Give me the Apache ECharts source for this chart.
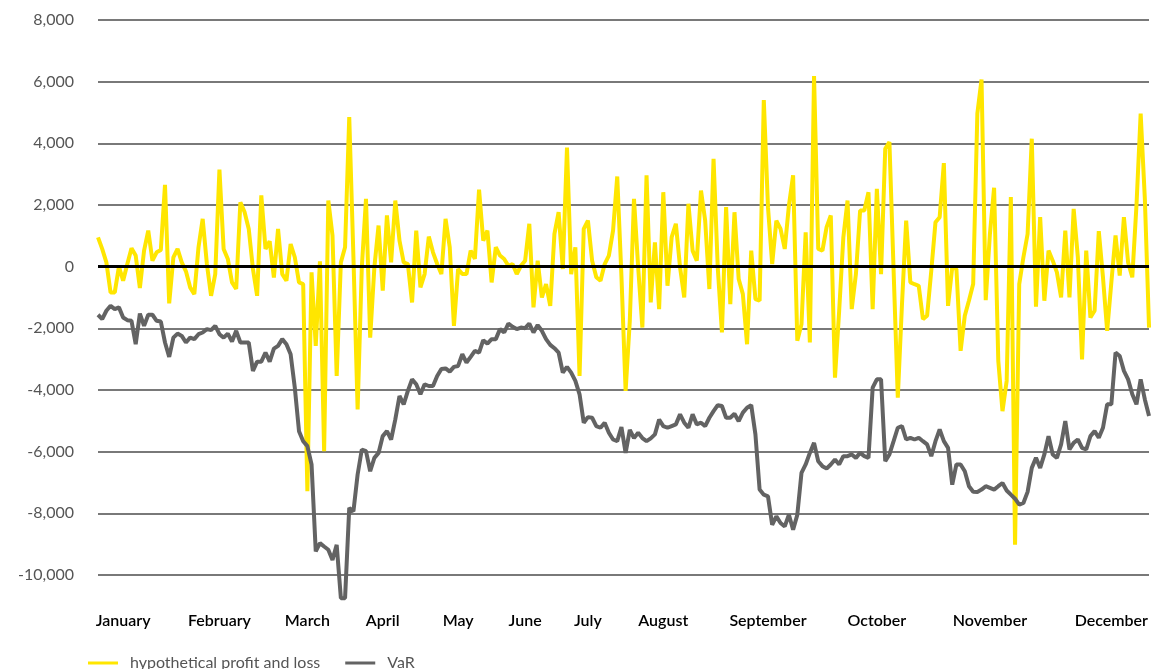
<!DOCTYPE html>
<html>
<head>
<meta charset="utf-8">
<style>
  html, body { margin: 0; padding: 0; background: #fff; }
  #chart { width: 1151px; height: 669px; }
</style>
<script src="https://cdn.jsdelivr.net/npm/echarts@6/dist/echarts.min.js"></script>
</head>
<body>
<div id="chart"></div>
<script>
// month labels and the trading-day index they sit on
const monthNames = ['January', 'February', 'March', 'April', 'May', 'June',
  'July', 'August', 'September', 'October', 'November', 'December'];
const monthPos = [6, 29, 50, 68, 86, 102, 117, 135, 160, 186, 213, 242];

// hypothetical profit and loss, one value per trading day
const pnl = [
  950, 575, 140, -835, -835, 0, -455, 85, 600, 360,
  -690, 520, 1170, 195, 465, 540, 2655, -1190, 300, 575,
  140, -150, -670, -890, 630, 1550, 85, -945, -240, 3145,
  575, 250, -510, -725, 2090, 1770, 1225, -75, -945, 2310,
  575, 825, -350, 1225, -240, -455, 735, 305, -510, -565,
  -7285, -185, -2570, 175, -5985, 2145, 1010, -3545, 140, 630,
  4855, 305, -4630, -20, 2200, -2300, -20, 1335, -780, 1660,
  140, 2145, 845, 140, 85, -1160, 1170, -670, -240, 975,
  465, 85, -240, 1550, 630, -1920, -75, -240, -240, 520,
  250, 2495, 845, 1170, -510, 630, 360, 250, 30, 85,
  -240, 30, 195, 1390, -1320, 195, -1000, -565, -1270, 1060,
  1765, -75, 3860, -240, 630, -3545, 1225, 1495, 195, -345,
  -455, 85, 360, 1170, 2925, -300, -4030, -1755, 2200, -20,
  -1975, 2960, -1160, 790, -1375, 2415, -620, 955, 1390, -20,
  -1000, 2040, 520, 195, 2470, 1495, -725, 3500, -20, -2135,
  1930, -1215, 1765, -400, -890, -2515, 520, -1050, -1105, 5400,
  1930, 85, 1495, 1225, 575, 1985, 2960, -2405, -1865, 1115,
  -2460, 6180, 575, 520, 1280, 1660, -3600, -1430, 955, 2145,
  -1375, -240, 1820, 1820, 2415, -1375, 2525, -240, 3825, 4045,
  -130, -4250, -1215, 1495, -510, -570, -620, -1700, -1590, -130,
  1440, 1605, 3360, -1270, -20, -75, -2730, -1590, -1100, -565,
  4965, 6070, -1085, 1060, 2560, -3055, -4685, -3705, 2255, -9020,
  -565, 305, 1060, 4150, -1300, 1605, -1105, 520, 195, -185,
  -1000, 1170, -1000, 1875, 305, -3005, 520, -1650, -1430, 1150,
  -345, -2080, -510, 1010, -290, 1605, 140, -345, 1985, 4965,
  2200, -1975
];

// value at risk, one value per trading day
const valueAtRisk = [
  -1560, -1700, -1430, -1270, -1375, -1320, -1650, -1735, -1755, -2515,
  -1520, -1920, -1560, -1560, -1755, -1780, -2460, -2925, -2300, -2170,
  -2245, -2460, -2300, -2350, -2190, -2135, -2025, -2060, -1920, -2190,
  -2300, -2170, -2430, -2080, -2460, -2460, -2460, -3380, -3080, -3080,
  -2785, -3080, -2660, -2570, -2350, -2515, -2840, -3925, -5335, -5660,
  -5820, -6415, -9235, -8965, -9075, -9180, -9510, -9020, -10750, -10750,
  -7825, -7935, -6740, -5930, -5985, -6635, -6200, -6040, -5495, -5335,
  -5605, -4955, -4195, -4465, -4030, -3655, -3815, -4140, -3815, -3870,
  -3870, -3545, -3320, -3300, -3405, -3250, -3220, -2840, -3110, -2925,
  -2730, -2785, -2385, -2495, -2350, -2350, -2025, -2135, -1845, -1950,
  -2025, -1975, -1995, -1845, -2135, -1895, -2080, -2350, -2535, -2645,
  -2785, -3435, -3250, -3435, -3705, -4140, -5060, -4880, -4900, -5170,
  -5225, -5060, -5385, -5605, -5660, -5200, -6040, -5290, -5560, -5390,
  -5560, -5660, -5570, -5440, -4955, -5170, -5225, -5170, -5115, -4790,
  -5060, -5225, -4790, -5115, -5060, -5170, -4900, -4685, -4490, -4520,
  -4900, -4900, -4770, -5010, -4735, -4575, -4490, -5440, -7230, -7395,
  -7450, -8370, -8100, -8315, -8425, -8045, -8530, -8050, -6690, -6415,
  -6040, -5715, -6310, -6470, -6545, -6415, -6255, -6415, -6145, -6145,
  -6090, -6200, -6040, -6145, -6200, -3925, -3655, -3655, -6310, -6090,
  -5660, -5225, -5170, -5605, -5550, -5605, -5550, -5660, -5765, -6145,
  -5660, -5280, -5660, -5875, -7070, -6415, -6415, -6635, -7120, -7300,
  -7305, -7230, -7120, -7175, -7230, -7120, -7015, -7260, -7395, -7525,
  -7720, -7665, -7305, -6525, -6200, -6525, -6090, -5495, -6090, -6200,
  -5765, -5010, -5930, -5715, -5605, -5875, -5930, -5495, -5335, -5550,
  -5225, -4465, -4465, -2785, -2895, -3380, -3655, -4140, -4465, -3655,
  -4305, -4845
];

const days = pnl.map((_, i) => String(i));

const chart = echarts.init(document.getElementById('chart'));
chart.setOption({
  animation: false,
  backgroundColor: '#fff',
  textStyle: { fontFamily: 'Lato, "Noto Sans", sans-serif' },
  grid: { left: 98, right: 1, top: 20, bottom: 94 },
  legend: {
    left: 88,
    top: 655,
    padding: 0,
    itemWidth: 30,
    itemHeight: 3,
    itemGap: 25,
    icon: 'rect',
    textStyle: { color: '#555', fontSize: 16, padding: [0, 0, 0, 7] },
    data: ['hypothetical profit and loss', 'VaR']
  },
  xAxis: {
    type: 'category',
    boundaryGap: false,
    data: days,
    axisLine: { show: false },
    axisTick: { show: false },
    splitLine: { show: false },
    axisLabel: {
      interval: (idx) => monthPos.includes(idx),
      formatter: (v, idx) => monthNames[monthPos.indexOf(idx)],
      color: '#000',
      fontSize: 16,
      fontWeight: 600,
      margin: 38
    }
  },
  yAxis: {
    type: 'value',
    min: -10000,
    max: 8000,
    interval: 2000,
    axisLine: { show: false },
    axisTick: { show: false },
    splitLine: { lineStyle: { color: '#4d4d4d', width: 1.5 } },
    axisLabel: {
      color: '#555',
      fontSize: 16,
      margin: 24,
      formatter: (v) => v.toLocaleString('en-US')
    }
  },
  series: [
    {
      name: 'hypothetical profit and loss',
      type: 'line',
      data: pnl,
      symbol: 'none',
      clip: false,
      color: '#FFE600',
      lineStyle: { color: '#FFE600', width: 4 },
      markLine: {
        silent: true,
        symbol: 'none',
        label: { show: false },
        lineStyle: { color: '#000', width: 3, type: 'solid' },
        data: [{ yAxis: 0 }]
      }
    },
    {
      name: 'VaR',
      type: 'line',
      data: valueAtRisk,
      symbol: 'none',
      clip: false,
      color: '#636363',
      lineStyle: { color: '#636363', width: 4 }
    }
  ]
});
</script>
</body>
</html>
